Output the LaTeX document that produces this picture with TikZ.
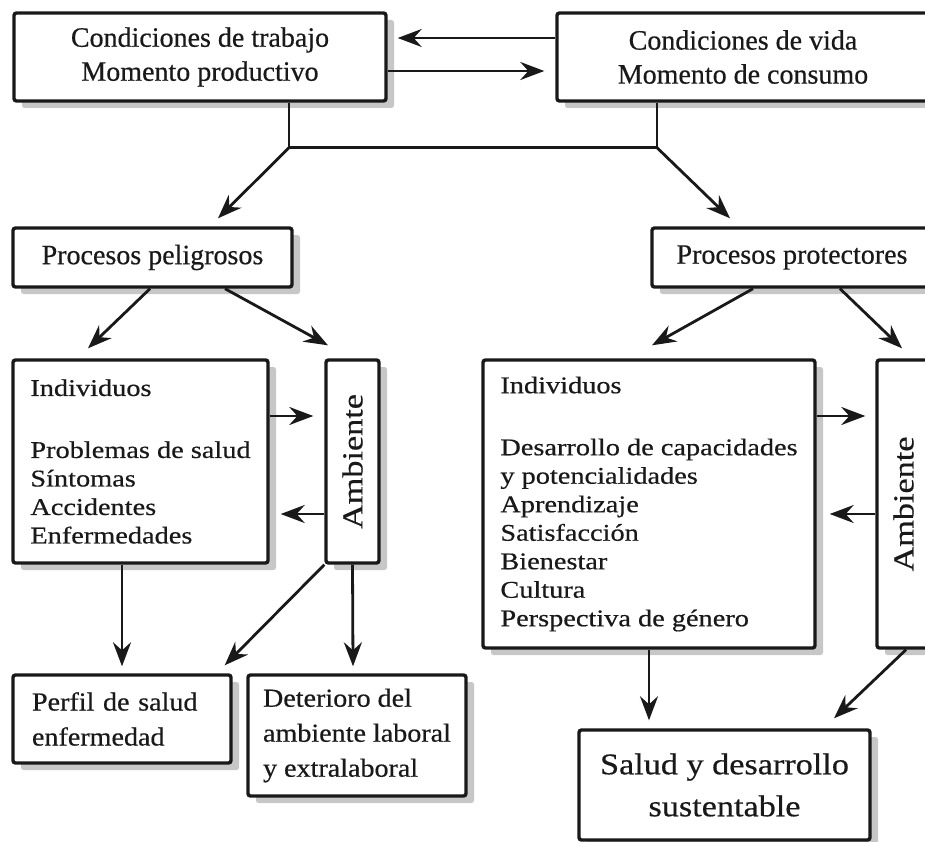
\documentclass[tikz,border=0pt]{standalone}
\usepackage{graphicx}
\usepackage{fontspec}
\setmainfont[FakeBold=0.5]{Liberation Serif}
\newfontfamily\fwide[FakeStretch=1.18,FakeBold=0.5]{Liberation Serif}
\newfontfamily\fmid[FakeStretch=1.08,FakeBold=0.5]{Liberation Serif}
\newfontfamily\fsal[FakeStretch=1.14,FakeBold=0.5]{Liberation Serif}
\usetikzlibrary{arrows.meta,calc,shadows}
\begin{document}
\begin{tikzpicture}[x=1pt,y=-1pt,
  box/.style={draw=black!90, line width=3.4pt, fill=white, rounded corners=2.5pt,
    inner sep=0pt, text=black!90,
    drop shadow={shadow xshift=8pt, shadow yshift=-7pt, fill=black!22, opacity=1}},
  toptxt/.style={font=\fontsize{28}{34}\selectfont, align=center},
  indtxt/.style={font=\fwide\fontsize{24}{28.5}\selectfont, align=left},
  lowtxt/.style={font=\fmid\fontsize{26}{35}\selectfont, align=left},
  conn/.style={draw=black!90, line width=2.8pt},
  arr/.style={conn, -{Stealth[length=24pt,width=18pt,inset=8pt]}}
]
\clip (0,0) rectangle (925,842);
\useasboundingbox (0,0) rectangle (925,842);

% top row
\node[box, toptxt, minimum width=372pt, minimum height=88pt] (top1) at (200,57)
  {Condiciones de trabajo\\Momento productivo};
\node[box, toptxt, minimum width=372pt, minimum height=88pt] (top2) at (743,57)
  {Condiciones de vida\\Momento de consumo};

% processes
\node[box, toptxt, minimum width=279pt, minimum height=59pt] (pp) at (152.5,257.5)
  {Procesos peligrosos};
\node[box, toptxt, minimum width=280pt, minimum height=59pt] (pr) at (792,257.5)
  {Procesos protectores};

% individuals and environment
\node[box, indtxt, minimum width=255pt, minimum height=203pt] (indL) at (140.5,461.5)
  {Individuos\\[33.5pt]Problemas de salud\\Síntomas\\Accidentes\\Enfermedades};
\node[box, minimum width=53pt, minimum height=203pt] (ambL) at (352.5,461.5)
  {\rotatebox{90}{\fwide\fontsize{29}{34}\selectfont Ambiente}};
\node[box, indtxt, minimum width=332pt, minimum height=288pt] (indR) at (649,504)
  {Individuos\\[33.5pt]Desarrollo de capacidades\\y potencialidades\\Aprendizaje\\Satisfacción\\Bienestar\\Cultura\\Perspectiva de género};
\node[box, minimum width=53pt, minimum height=288pt] (ambR) at (903.5,504)
  {\rotatebox{90}{\fwide\fontsize{29}{34}\selectfont Ambiente}};

% outcomes
\node[box, lowtxt, text width=180pt, inner xsep=19pt, minimum width=218pt, minimum height=88pt] (perf) at (122,719)
  {Perfil de salud\\enfermedad};
\node[box, lowtxt, minimum width=218pt, minimum height=121pt] (det) at (357,735.5)
  {Deterioro del\\ambiente laboral\\y extralaboral};
\node[box, font=\fsal\fontsize{30}{42}\selectfont, align=center, minimum width=291pt, minimum height=110pt] (sal) at (724.5,785)
  {Salud y desarrollo\\sustentable};

% top arrows
\draw[arr] ($(top2.west)+(0,-19)$) -- ($(top1.east)+(10,-19)$);
\draw[arr] ($(top1.east)+(0,14)$) -- ($(top2.west)+(-11,14)$);

% fork
\draw[conn] ($(top1.south)+(89,0)$) -- ++(0,45) coordinate (fL) -| ($(top2.south)+(-86,0)$);
\coordinate (fR) at ($(top2.south)+(-86,45)$);
\draw[arr] (fL) -- ($(pp.north)+(65.5,-8)$);
\draw[arr] (fR) -- ($(pr.north)+(-62,-8)$);

% from processes
\draw[arr] ($(pp.south)+(-2.5,0)$) -- ($(indL.north)+(-52.5,-10)$);
\draw[arr] ($(pp.south)+(72.5,0)$) -- ($(ambL.north)+(-24.5,-13)$);
\draw[arr] ($(pr.south)+(-39,0)$) -- ($(indR.north)+(3,-13)$);
\draw[arr] ($(pr.south)+(48,0)$) -- ($(ambR.north)+(-1.5,-10)$);

% individuals <-> environment
\draw[arr] ($(indL.east)+(0,-45.5)$) -- ($(ambL.west)+(-11,-45.5)$);
\draw[arr] ($(ambL.west)+(0,52.5)$) -- ($(indL.east)+(11,52.5)$);
\draw[arr] ($(indR.east)+(0,-88)$) -- ($(ambR.west)+(-10,-88)$);
\draw[arr] ($(ambR.west)+(0,10)$) -- ($(indR.east)+(13,10)$);

% to outcomes
\draw[arr] ($(indL.south)+(-18.5,0)$) -- ($(perf.north)+(0,-7)$);
\draw[arr] (ambL.south west) -- ($(perf.north east)+(-8,-8)$);
\draw[arr] (ambL.south) -- ($(det.north)+(-4,-7)$);
\draw[arr] (indR.south) -- ($(sal.north)+(-75.5,-8)$);
\draw[arr] ($(ambR.south)+(2.5,0)$) -- ($(sal.north)+(109.5,-10)$);
\end{tikzpicture}
\end{document}
